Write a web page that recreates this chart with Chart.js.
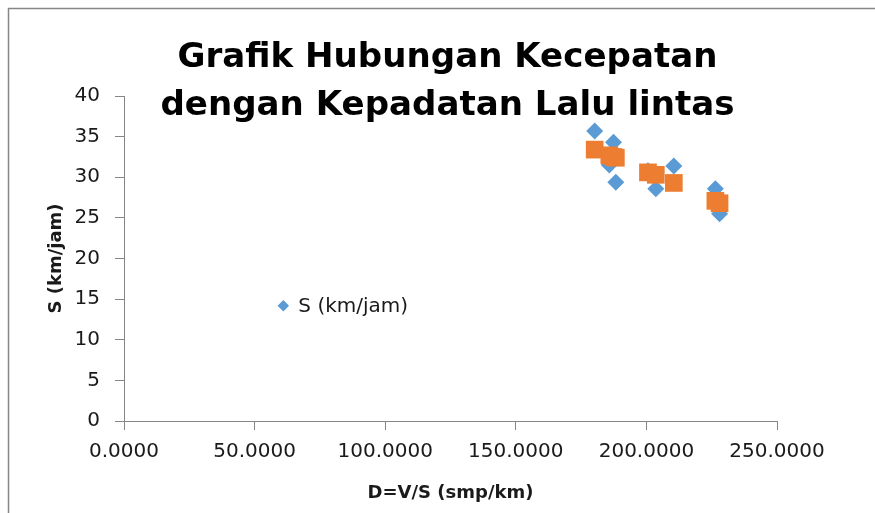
<!DOCTYPE html>
<html>
<head>
<meta charset="utf-8">
<script src="https://cdn.jsdelivr.net/npm/chart.js@4.4.1/dist/chart.umd.min.js"></script>
<style>
  html, body { margin: 0; padding: 0; background: #ffffff; }
  #wrap { position: relative; width: 875px; height: 513px; }
</style>
</head>
<body>
<div id="wrap"><canvas id="c" width="875" height="513"></canvas></div>
<script>
// ---- data ----
const titleLines = ['Grafik Hubungan Kecepatan', 'dengan Kepadatan Lalu lintas'];
const xAxisTitle = 'D=V/S (smp/km)';
const yAxisTitle = 'S (km/jam)';
const seriesLabel = 'S (km/jam)';
const seriesModelLabel = 'S model';
const densityD       = [180.2, 185.8, 187.4, 188.3, 200.6, 203.6, 210.5, 226.4, 228.0];
const speedObserved  = [35.7, 31.5, 34.3, 29.4, 30.8, 28.6, 31.4, 28.6, 25.5];
const speedModel     = [33.4, 32.7, 32.5, 32.4, 30.6, 30.3, 29.3, 27.1, 26.8];
const xTicks = [0, 50, 100, 150, 200, 250];
const yTicks = [0, 5, 10, 15, 20, 25, 30, 35, 40];

const obsPoints = densityD.map((d, i) => ({ x: d, y: speedObserved[i] }));
const modelPoints = densityD.map((d, i) => ({ x: d, y: speedModel[i] }));

const BLUE = '#5B9BD5';
const ORANGE = '#ED7D31';
const AXIS = '#868686';
const TEXT = '#1a1a1a';

const framePlugin = {
  id: 'frame',
  beforeDraw(chart) {
    const ctx = chart.ctx;
    ctx.save();
    ctx.fillStyle = '#ffffff';
    ctx.fillRect(0, 0, chart.width, chart.height);
    ctx.strokeStyle = AXIS;
    ctx.lineWidth = 1.5;
    ctx.beginPath();
    ctx.moveTo(8.5, chart.height);
    ctx.lineTo(8.5, 8.5);
    ctx.lineTo(chart.width, 8.5);
    ctx.stroke();
    ctx.restore();
  }
};

const overlayTitlePlugin = {
  id: 'overlayTitle',
  afterDraw(chart) {
    const ctx = chart.ctx;
    ctx.save();
    ctx.font = 'bold 34px "DejaVu Sans"';
    ctx.fillStyle = '#000000';
    ctx.textAlign = 'center';
    ctx.textBaseline = 'alphabetic';
    const w0 = ctx.measureText(titleLines[0]).width;
    const sx = 540 / w0;
    const cx = 447.5;
    const baselines = [67, 115];
    titleLines.forEach((line, i) => {
      ctx.save();
      ctx.translate(cx, baselines[i]);
      ctx.scale(sx, 1);
      ctx.fillText(line, 0, 0);
      ctx.restore();
    });
    ctx.restore();
  }
};

const innerLegendPlugin = {
  id: 'innerLegend',
  afterDraw(chart) {
    const ds = chart.data.datasets[0];
    const ctx = chart.ctx;
    const xs = chart.scales.x, ys = chart.scales.y;
    // legend anchored inside the plot area (Excel-style manual legend position)
    const mx = xs.left + (xs.right - xs.left) * 0.244;
    const my = ys.top + (ys.bottom - ys.top) * 0.645;
    ctx.save();
    ctx.fillStyle = ds.backgroundColor;
    Chart.helpers.drawPoint(ctx, { pointStyle: 'rectRot', radius: 5.5, borderWidth: 0 }, mx, my);
    ctx.fill();
    ctx.font = '20px "DejaVu Sans"';
    ctx.fillStyle = TEXT;
    ctx.textAlign = 'left';
    ctx.textBaseline = 'middle';
    ctx.fillText(ds.label, mx + 15, my + 1);
    ctx.restore();
  }
};

new Chart(document.getElementById('c'), {
  type: 'scatter',
  data: {
    datasets: [
      {
        label: seriesLabel,
        data: obsPoints,
        pointStyle: 'rectRot',
        pointRadius: 8.5,
        pointHoverRadius: 8.5,
        backgroundColor: BLUE,
        borderColor: BLUE,
        borderWidth: 0,
        order: 1
      },
      {
        label: seriesModelLabel,
        data: modelPoints,
        pointStyle: 'rect',
        pointRadius: 12.5,
        pointHoverRadius: 12.5,
        backgroundColor: ORANGE,
        borderColor: ORANGE,
        borderWidth: 0,
        order: 0
      }
    ]
  },
  options: {
    responsive: false,
    animation: false,
    devicePixelRatio: 1,
    layout: { padding: { left: 0, right: 98, top: 96, bottom: 0 } },
    plugins: {
      legend: { display: false },
      title: { display: false },
      tooltip: { enabled: false }
    },
    scales: {
      x: {
        type: 'linear',
        min: 0,
        max: 250,
        afterBuildTicks(scale) { scale.ticks = xTicks.map(v => ({ value: v })); },
        afterFit(scale) { scale.height = 92; scale.paddingLeft = 0; scale.paddingRight = 0; },
        ticks: {
          padding: 10,
          maxRotation: 0,
          autoSkip: false,
          color: TEXT,
          font: { family: '"DejaVu Sans"', size: 20 },
          callback: (v) => Number(v).toFixed(4)
        },
        grid: { drawOnChartArea: false, tickLength: 9, color: AXIS, tickColor: AXIS, lineWidth: 1 },
        border: { display: true, color: AXIS, width: 1 },
        title: {
          display: true,
          text: xAxisTitle,
          color: TEXT,
          font: { family: '"DejaVu Sans"', size: 18, weight: 'bold' },
          padding: { top: 0, bottom: 9 }
        }
      },
      y: {
        type: 'linear',
        min: 0,
        max: 40,
        afterBuildTicks(scale) { scale.ticks = yTicks.map(v => ({ value: v })); },
        afterFit(scale) { scale.width = 124; scale.paddingTop = 0; scale.paddingBottom = 0; },
        ticks: {
          padding: 15,
          color: TEXT,
          font: { family: '"DejaVu Sans"', size: 20 }
        },
        grid: { drawOnChartArea: false, tickLength: 9, color: AXIS, tickColor: AXIS, lineWidth: 1 },
        border: { display: true, color: AXIS, width: 1 },
        title: {
          display: true,
          text: yAxisTitle,
          color: TEXT,
          font: { family: '"DejaVu Sans"', size: 18, weight: 'bold' },
          padding: { top: 46, bottom: 0 }
        }
      }
    }
  },
  plugins: [framePlugin, overlayTitlePlugin, innerLegendPlugin]
});
</script>
</body>
</html>
